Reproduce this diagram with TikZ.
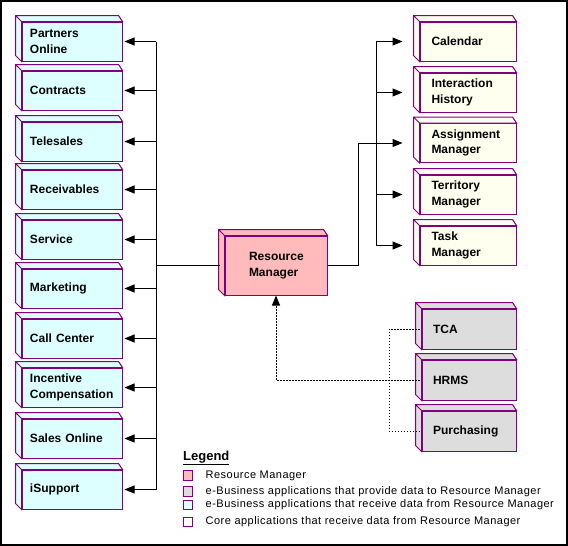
\documentclass[tikz,border=0pt]{standalone}
\usepackage{fontspec}
\setmainfont{Liberation Sans}
\usetikzlibrary{arrows.meta}
\definecolor{edge}{RGB}{128,0,128}
\definecolor{client}{RGB}{221,255,255}
\definecolor{hub}{RGB}{255,187,187}
\definecolor{feeder}{RGB}{221,221,221}
\definecolor{core}{RGB}{255,255,240}
\begin{document}
\begin{tikzpicture}
  [x=1pt,y=-1pt,
   box/.style={draw=edge,line width=1pt,fill=#1,minimum height=39pt,inner ysep=0pt,
     align=left,font=\fontsize{12}{15.5}\selectfont\bfseries},
   leftbox/.style={box=client,minimum width=100pt,text width=84pt,inner xsep=8pt},
   rightbox/.style={box=core,minimum width=96pt,text width=73pt,inner xsep=11.5pt},
   inbox/.style={box=feeder,minimum width=94pt,minimum height=40pt,text width=72pt,inner xsep=11pt},
   face/.style={draw=edge,line width=1pt,fill=#1},
   link/.style={line width=1pt},
   feed/.style={line width=1pt,dash pattern=on 1.5pt off 1.5pt},
   tip/.style={-{Triangle[length=10pt,width=8pt]}},
   key/.style={draw=edge,line width=1pt,fill=#1,minimum size=9.5pt,inner sep=0pt},
   keytext/.style={anchor=west,inner sep=0pt,
     font=\fontsize{11}{13}\selectfont\addfontfeature{LetterSpace=4.4}}]
  \useasboundingbox (0,0) rectangle (568,546);
  \draw [line width=2pt] (1,1) rectangle (567,544.5);

  \node (po) at (72,41.5) [leftbox] {Partners\\Online};
  \node (co) at (72,90.5) [leftbox] {Contracts};
  \node (ts) at (72,141.5) [leftbox] {Telesales};
  \node (rc) at (72,189.5) [leftbox] {Receivables};
  \node (sv) at (72,239.5) [leftbox] {Service};
  \node (mk) at (72,288.5) [leftbox] {Marketing};
  \node (cc) at (72,338.5) [leftbox] {Call Center};
  \node (ic) at (72,387.5) [leftbox] {Incentive\\Compensation};
  \node (so) at (72,438.5) [leftbox] {Sales Online};
  \node (is) at (72,489.5) [leftbox] {iSupport};

  \node (rm) at (276,265.5) [box=hub,minimum width=102pt,minimum height=59pt,
    text width=54pt,inner xsep=24pt] {Resource\\Manager};

  \node (cal) at (468,41.5) [rightbox] {Calendar};
  \node (ih) at (468,92.5) [rightbox] {Interaction\\History};
  \node (am) at (468,143) [rightbox] {Assignment\\Manager};
  \node (tm) at (468,194.5) [rightbox] {Territory\\Manager};
  \node (tk) at (468,245.5) [rightbox] {Task\\Manager};

  \node (tca) at (469,329) [inbox] {TCA};
  \node (hrms) at (469,380) [inbox] {HRMS};
  \node (pur) at (469,431) [inbox] {Purchasing};

  \foreach \n/\c in {po/client,co/client,ts/client,rc/client,sv/client,mk/client,
      cc/client,ic/client,so/client,is/client,rm/hub,cal/core,ih/core,am/core,
      tm/core,tk/core,tca/feeder,hrms/feeder,pur/feeder}
    \draw [face=\c] (\n.south west) -- ([shift={(-6,-6)}]\n.south west)
      -- ([shift={(-6,-6)}]\n.north west) -- ([shift={(-4,-6)}]\n.north east)
      -- (\n.north east) -- (\n.north west) -- cycle
      (\n.north west) -- ([shift={(-6,-6)}]\n.north west);

  \coordinate (lbus) at (156,0);
  \coordinate (rbus) at (376,0);
  \coordinate (rturn) at (358,0);
  \coordinate (tap) at (389,0);

  \draw [link] (po.east -| lbus) -- (is.east -| lbus);
  \draw [link,shorten >=5pt] (rm.west -| lbus) -- (rm.west);
  \foreach \n in {po,co,ts,rc,sv,mk,cc,ic,so,is}
    \draw [link,tip,shorten >=2pt] (\n.east -| lbus) to (\n.east);

  \draw [link] (cal.west -| rbus) -- (tk.west -| rbus);
  \draw [link] (rm.east) -- (rm.east -| rturn) -- (am.west -| rturn) -- (am.west -| rbus);
  \foreach \n in {cal,ih,am,tm,tk}
    \draw [link,tip,shorten >=17pt] (\n.west -| rbus) to (\n.west);

  \draw [feed,tip,shorten <=2pt] (hrms.west) -- (rm.south |- hrms.west) -- (rm.south);
  \draw [feed,shorten <=2pt,shorten >=2pt] (tca.west) -- (tca.west -| tap)
    -- (pur.west -| tap) -- (pur.west);

  \node (lg) at (183,460) [anchor=base west,inner sep=0pt,
    font=\fontsize{13}{15}\selectfont\bfseries] {\underline{Legend}};
  \node (k1) at (188,475.5) [key=hub] {};
  \node (k2) at (188,491.5) [key=feeder] {};
  \node (k3) at (188,505) [key=client] {};
  \node (k4) at (188,522) [key=white] {};
  \node (t1) at (205.5,475.5) [keytext] {Resource Manager};
  \node (t2) at (205.5,491.5) [keytext] {e-Business applications that provide data to Resource Manager};
  \node (t3) at (205.5,505) [keytext] {e-Business applications that receive data from Resource Manager};
  \node (t4) at (205.5,522) [keytext] {Core applications that receive data from Resource Manager};
\end{tikzpicture}
\end{document}
